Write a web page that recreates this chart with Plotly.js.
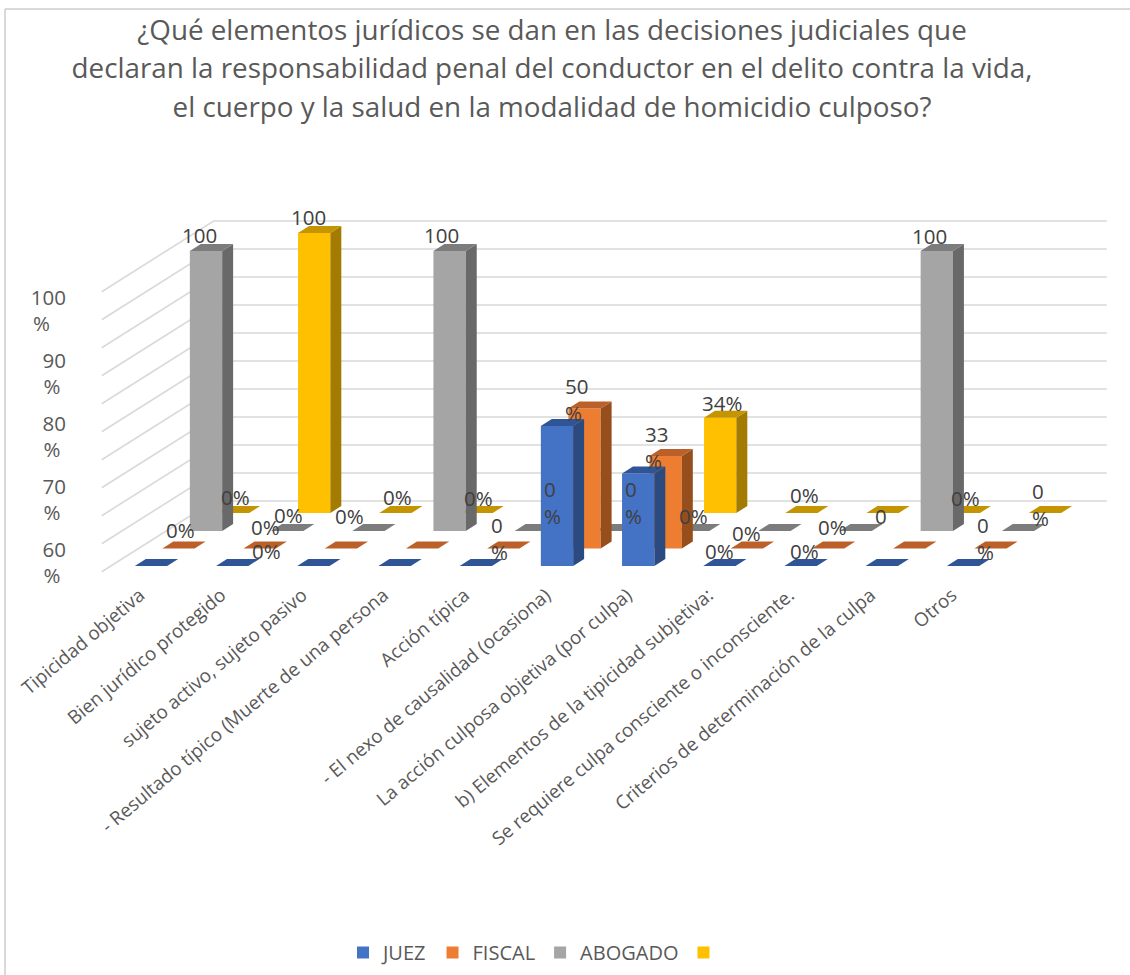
<!DOCTYPE html>
<html>
<head>
<meta charset="utf-8">
<script src="https://cdn.plot.ly/plotly-3.0.1.min.js"></script>
<style>html,body{margin:0;padding:0;background:#fff}#chart{width:1130px;height:975px}</style>
</head>
<body>
<div id="chart"></div>
<script>
// ---------- data ----------
const categories = ["Tipicidad objetiva","Bien jurídico protegido","sujeto activo, sujeto pasivo","- Resultado típico (Muerte de una persona","Acción típica","- El nexo de causalidad (ocasiona)","La acción culposa objetiva (por culpa)","b) Elementos de la tipicidad subjetiva:","Se requiere culpa consciente o inconsciente.","Criterios de determinación de la culpa","Otros"];
const juez    = [0,0,0,0,0,50,33,0,0,0,0];
const fiscal  = [0,0,0,0,0,50,33,0,0,0,0];
const abogado = [100,0,0,100,0,0,0,0,0,100,0];
const cuarta  = [0,100,0,0,0,0,34,0,0,0,0];
const yTickValues = [60,70,80,90,100];
const yTickLabels = ["60<br>%\u00a0","70<br>%\u00a0","80<br>%\u00a0","90<br>%\u00a0","100<br>%\u00a0\u00a0\u00a0"];
const gridValues = [0,10,20,30,40,50,60,70,80,90,100];

// data labels as printed in the chart: [category, text, x nudge, y nudge]
const juezLabels    = [[1,"0%",34,-15],[5,"0<br>%",-5,76],[6,"0<br>%",-5,29],[7,"0%",0,-15],[8,"0%",4,-15]];
const fiscalLabels  = [[0,"0%",2,-18],[1,"0%",6,-21],[2,"0%",9,-32],[4,"0<br>%",-4,-10],[5,"50<br>%",-8,-9],[6,"33<br>%",-9,-9],[7,"0%",0,-15],[8,"0%",4,-21],[10,"0<br>%",-5,-10]];
const abogadoLabels = [[0,"100",-7,-16],[1,"0%",1,-16],[3,"100",-8,-16],[6,"0%",0,-15],[8,"0",25,-15],[9,"100",-7,-15]];
const cuartaLabels  = [[0,"0%",2,-16],[1,"100",-6,-16],[2,"0%",2,-16],[3,"0%",2,-15],[6,"34%",2,-15],[7,"0%",3,-18],[9,"0%",2,-15],[10,"0<br>%",-5,-9]];

// ---------- oblique projection geometry ----------
const plot = {l:95, r:1115, t:215, b:575};
const catW = 81.2, valH = 2.8;
const barW = 0.398, depthX = 0.135, depthY = 2.5;
const FONT = "Open Sans";

function ranges(cx, floor){
  return {
    x:[(plot.l-cx)/catW,(plot.r-cx)/catW],
    y:[(floor-plot.b)/valH,(floor-plot.t)/valH]
  };
}
const hidden = {visible:false,showgrid:false,zeroline:false,fixedrange:true};
const xs = categories.map((_,i)=>i);

const series = [
  {name:"JUEZ",    values:juez,    labels:juezLabels,    ax:5, cx:151,   floor:566,   front:"#4472C4", top:"#2F5597", side:"#2B4B80"},
  {name:"FISCAL",  values:fiscal,  labels:fiscalLabels,  ax:4, cx:178.5, floor:548.4, front:"#ED7D31", top:"#BC6029", side:"#964F1C"},
  {name:"ABOGADO", values:abogado, labels:abogadoLabels, ax:3, cx:206,   floor:531,   front:"#A5A5A5", top:"#7C7C7C", side:"#696969"},
  {name:" ",       values:cuarta,  labels:cuartaLabels,  ax:2, cx:233,   floor:513,   front:"#FFC000", top:"#C49500", side:"#A37B00"}
];

const traces = [], annotations = [];
const layout = {
  width:1130, height:975, autosize:false,
  margin:{l:plot.l, r:1130-plot.r, t:plot.t, b:975-plot.b, pad:0, autoexpand:false},
  paper_bgcolor:"#fff", plot_bgcolor:"rgba(0,0,0,0)",
  font:{family:FONT,color:"#595959"},
  hovermode:false, barmode:"overlay", showlegend:true,
  title:{
    text:['¿Qué elementos jurídicos se dan en las decisiones judiciales que',
          'declaran la responsabilidad penal del conductor en el delito contra la vida,',
          'el cuerpo y la salud en la modalidad de homicidio culposo?']
          .map(s=>'<span style="font-size:27.8px">'+s+'</span>').join('<br>'),
    font:{family:FONT,size:29.5,color:"#595959"},
    x:552/1130, xanchor:"center", y:1-40/975, yanchor:"top"
  },
  legend:{orientation:"h", x:(343-plot.l)/(plot.r-plot.l), xanchor:"left",
          y:(plot.b-933)/(plot.b-plot.t), yanchor:"top",
          font:{family:FONT,size:20,color:"#595959"}, traceorder:"normal",
          itemclick:false, itemdoubleclick:false, bgcolor:"rgba(0,0,0,0)"},
  shapes:[
    {type:"line",xref:"paper",yref:"paper",x0:(5-plot.l)/(plot.r-plot.l),x1:(1130-plot.l)/(plot.r-plot.l),
      y0:(plot.b-9)/(plot.b-plot.t),y1:(plot.b-9)/(plot.b-plot.t),line:{color:"#d9d9d9",width:2},layer:"below"},
    {type:"line",xref:"paper",yref:"paper",x0:(5-plot.l)/(plot.r-plot.l),x1:(5-plot.l)/(plot.r-plot.l),
      y0:(plot.b-9)/(plot.b-plot.t),y1:(plot.b-975)/(plot.b-plot.t),line:{color:"#d9d9d9",width:2},layer:"below"}
  ],
  annotations:annotations
};

// back wall axes + gridlines
const back = ranges(254.3,501);
layout.xaxis = Object.assign({},hidden,{range:back.x});
layout.yaxis = Object.assign({},hidden,{range:back.y});
const wallBack = -0.5, wallFrontX = -0.5-112/catW, wallFrontDrop = 70.7/valH, wallEnd = categories.length-0.5;
const gx = [], gy = [];
gridValues.forEach(v=>{ gx.push(wallFrontX,wallBack,wallEnd,null); gy.push(v-wallFrontDrop,v,v,null); });
traces.push({type:"scatter",mode:"lines",x:gx,y:gy,xaxis:"x",yaxis:"y",showlegend:false,hoverinfo:"skip",
  line:{color:"#d9d9d9",width:1.6}});

series.forEach(s=>{
  const xa = "x"+s.ax, ya = "y"+s.ax, r = ranges(s.cx,s.floor);
  layout["xaxis"+s.ax] = Object.assign({},hidden,{range:r.x,overlaying:"x"});
  layout["yaxis"+s.ax] = Object.assign({},hidden,{range:r.y,overlaying:"y"});
  // front faces
  traces.push({type:"bar",name:s.name,x:xs,y:s.values,width:barW,xaxis:xa,yaxis:ya,
    marker:{color:s.front,line:{width:0}},hoverinfo:"skip"});
  // side faces + top faces
  const sx=[],sy=[],tx=[],ty=[];
  s.values.forEach((v,i)=>{
    const a=i-barW/2,b=i+barW/2;
    tx.push(a,b,b+depthX,a+depthX,a,null); ty.push(v,v,v+depthY,v+depthY,v,null);
    if(v>0){ sx.push(b,b,b+depthX,b+depthX,b,null); sy.push(0,v,v+depthY,depthY,0,null); }
  });
  traces.push({type:"scatter",mode:"lines",x:sx,y:sy,xaxis:xa,yaxis:ya,fill:"toself",fillcolor:s.side,
    line:{width:0,color:s.side},showlegend:false,hoverinfo:"skip"});
  traces.push({type:"scatter",mode:"lines",x:tx,y:ty,xaxis:xa,yaxis:ya,fill:"toself",fillcolor:s.top,
    line:{width:0,color:s.top},showlegend:false,hoverinfo:"skip"});
  // data labels
  s.labels.forEach(l=>{
    annotations.push({xref:xa,yref:ya,x:l[0],y:s.values[l[0]],text:l[1],showarrow:false,
      xanchor:"center",yanchor:"middle",align:"left",xshift:l[2],yshift:-l[3],
      font:{family:FONT,size:20.5,color:"#404040"}});
  });
});

// category axis lives on the front (JUEZ) plane
Object.assign(layout.xaxis5,{visible:true,tickmode:"array",tickvals:xs,ticktext:categories,tickangle:-40,
  side:"bottom",anchor:"y5",ticks:"outside",ticklen:1,tickcolor:"rgba(0,0,0,0)",showline:false,
  ticklabelshift:-11,
  tickfont:{family:FONT,size:18.8,color:"#595959"},automargin:false});

// value tick labels on their own axis
layout.yaxis6 = {overlaying:"y",side:"left",anchor:"x",fixedrange:true,showgrid:false,zeroline:false,showline:false,
  range:[60+(563-plot.b)/6.3,60+(563-plot.t)/6.3],tickmode:"array",tickvals:yTickValues,ticktext:yTickLabels,
  ticks:"outside",ticklen:24,tickcolor:"rgba(0,0,0,0)",automargin:false,
  tickfont:{family:FONT,size:20.5,color:"#595959"}};
traces.push({type:"scatter",mode:"none",x:yTickValues.map(()=>0),y:yTickValues,xaxis:"x",yaxis:"y6",showlegend:false,hoverinfo:"skip"});

Plotly.newPlot("chart",traces,layout,{displayModeBar:false,staticPlot:false,responsive:false});
</script>
</body>
</html>
